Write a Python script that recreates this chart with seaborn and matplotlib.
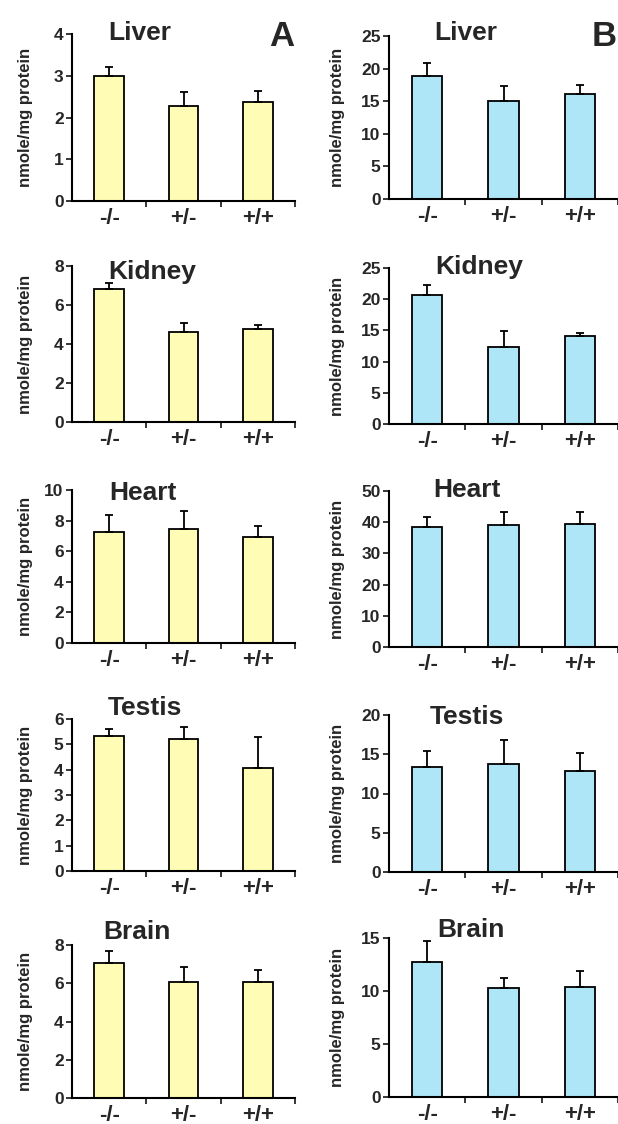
import numpy as np
import pandas as pd
import matplotlib
matplotlib.use("Agg")
import matplotlib.pyplot as plt
import seaborn as sns

# genotype categories
genotypes = ["-/-", "+/-", "+/+"]
tissues = ["Liver", "Kidney", "Heart", "Testis", "Brain"]

# panel A (yellow) means and SE
liver_a = [3.0, 2.27, 2.38]
liver_a_err = [0.21, 0.34, 0.25]
kidney_a = [6.8, 4.63, 4.77]
kidney_a_err = [0.34, 0.43, 0.20]
heart_a = [7.23, 7.43, 6.94]
heart_a_err = [1.13, 1.21, 0.70]
testis_a = [5.32, 5.23, 4.05]
testis_a_err = [0.30, 0.44, 1.23]
brain_a = [7.04, 6.07, 6.07]
brain_a_err = [0.65, 0.80, 0.62]

# panel B (blue) means and SE
liver_b = [18.9, 15.0, 16.1]
liver_b_err = [2.0, 2.3, 1.4]
kidney_b = [20.6, 12.3, 14.05]
kidney_b_err = [1.6, 2.55, 0.55]
heart_b = [38.6, 39.0, 39.3]
heart_b_err = [3.1, 4.2, 4.1]
testis_b = [13.4, 13.8, 12.86]
testis_b_err = [2.05, 3.0, 2.35]
brain_b = [12.77, 10.25, 10.38]
brain_b_err = [1.95, 0.95, 1.5]

# y-axis limits / tick steps
ymax_a = [4, 8, 10, 6, 8]
step_a = [1, 2, 2, 1, 2]
ymax_b = [25, 25, 50, 20, 15]
step_b = [5, 5, 10, 5, 5]

vals_a = [liver_a, kidney_a, heart_a, testis_a, brain_a]
errs_a = [liver_a_err, kidney_a_err, heart_a_err, testis_a_err, brain_a_err]
vals_b = [liver_b, kidney_b, heart_b, testis_b, brain_b]
errs_b = [liver_b_err, kidney_b_err, heart_b_err, testis_b_err, brain_b_err]

sns.set_style("white")
plt.rcParams['font.family'] = ['Liberation Sans', 'DejaVu Sans']

W, H = 618, 1124
fig = plt.figure(figsize=(W / 100, H / 100), dpi=100)

# axes boxes in pixels: (left, top, right, bottom)
boxes_a = [(72, 34, 295, 201), (72, 266, 295, 422), (72, 490, 295, 643),
           (72, 719, 295, 871), (72, 945, 295, 1098)]
boxes_b = [(389, 36, 618, 199), (389, 268, 618, 424), (389, 491, 618, 647),
           (389, 715, 618, 872), (389, 938, 618, 1097)]
title_a = [(140, 33), (152, 272), (143, 493), (145, 708), (137, 932)]
title_b = [(466, 33), (479, 267), (467, 490), (467, 717), (471, 930)]
label_x = {"A": 33, "B": 345}

colors = {"A": "#FFFDB5", "B": "#AEE6F8"}


def draw(box, vals, errs, ymax, step, color, title, tpos, lx):
    l, t, r, b = box
    ax = fig.add_axes([l / W, 1 - b / H, (r - l) / W, (b - t) / H])
    df = pd.DataFrame({"genotype": genotypes, "value": vals})
    sns.barplot(data=df, x="genotype", y="value", color=color, width=0.4,
                edgecolor="black", linewidth=1.3, saturation=1, ax=ax)
    ax.errorbar(np.arange(3), vals, yerr=[np.zeros(3), errs], fmt="none",
                ecolor="black", elinewidth=1.3, capsize=3, capthick=1.3)
    ax.set_xlim(-0.5, 2.5)
    ax.set_ylim(0, ymax)
    ax.set_yticks(np.arange(0, ymax + step / 2, step))
    ax.set_xticks([0, 1, 2])
    ax.set_xticks([0.5, 1.5, 2.5], minor=True)
    ax.set_xticklabels(genotypes, fontsize=16, fontweight="bold")
    ax.tick_params(axis="x", which="major", length=0, pad=5)
    ax.tick_params(axis="x", which="minor", length=4, width=1.3, direction="out", bottom=True)
    ax.tick_params(axis="y", length=4, width=1.3, direction="out", left=True,
                   labelsize=12.5, pad=2)
    for lab in ax.get_yticklabels():
        lab.set_fontweight("bold")
    ax.set_xlabel("")
    ax.set_ylabel("nmole/mg protein", fontsize=12, fontweight="bold")
    ax.yaxis.set_label_coords((lx - l) / (r - l), 0.5)
    for s in ["top", "right"]:
        ax.spines[s].set_visible(False)
    for s in ["left", "bottom"]:
        ax.spines[s].set_linewidth(1.5)
        ax.spines[s].set_color("black")
    ax.patch.set_alpha(0)
    fig.text(tpos[0] / W, 1 - tpos[1] / H, title, fontsize=19, fontweight="bold",
             ha="center", va="center")
    return ax


for i, tissue in enumerate(tissues):
    draw(boxes_a[i], vals_a[i], errs_a[i], ymax_a[i], step_a[i], colors["A"],
         tissue, title_a[i], label_x["A"])
    draw(boxes_b[i], vals_b[i], errs_b[i], ymax_b[i], step_b[i], colors["B"],
         tissue, title_b[i], label_x["B"])

fig.text(282 / W, 1 - 37 / H, "A", fontsize=25, fontweight="bold", ha="center", va="center")
fig.text(604 / W, 1 - 37 / H, "B", fontsize=25, fontweight="bold", ha="center", va="center")

plt.savefig("out.png", dpi=100)
